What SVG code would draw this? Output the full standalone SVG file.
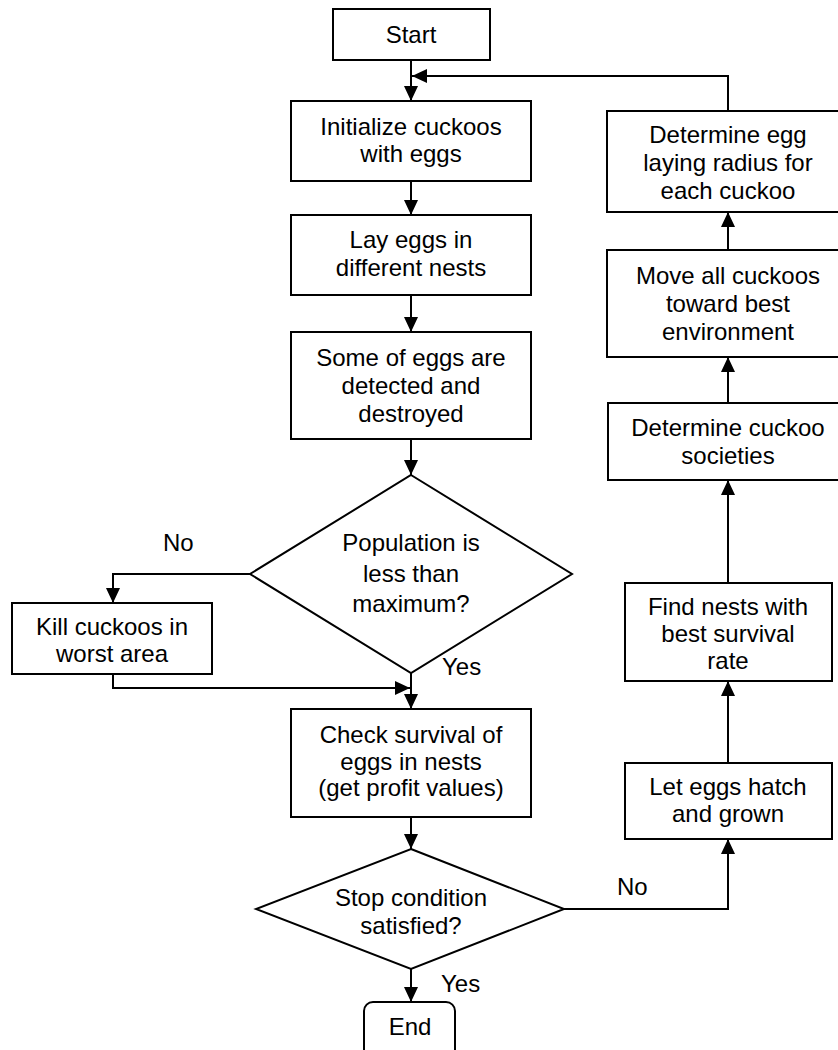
<svg xmlns="http://www.w3.org/2000/svg" width="838" height="1050" viewBox="0 0 838 1050">
<defs>
<marker id="ah" markerUnits="userSpaceOnUse" markerWidth="16" markerHeight="16" viewBox="0 0 16 14" refX="15" refY="7" orient="auto">
<path d="M0,0 L15,7 L0,14 Z" fill="#000"/>
</marker>
</defs>
<style>
.box{fill:#fff;stroke:#000;stroke-width:2}
.t{font-family:"Liberation Sans",Arial,sans-serif;font-size:24px;fill:#000;text-anchor:middle}
.l{font-family:"Liberation Sans",Arial,sans-serif;font-size:24px;fill:#000}
.c{fill:none;stroke:#000;stroke-width:2}
</style>
<rect width="838" height="1050" fill="#fff"/>
<g id="connectors">
<path class="c" d="M411,60 V101" marker-end="url(#ah)"/>
<path class="c" d="M728,111 V76 H412" marker-end="url(#ah)"/>
<path class="c" d="M411,181 V215" marker-end="url(#ah)"/>
<path class="c" d="M411,295 V332" marker-end="url(#ah)"/>
<path class="c" d="M411,439 V475" marker-end="url(#ah)"/>
<path class="c" d="M250,574 H113 V603" marker-end="url(#ah)"/>
<path class="c" d="M113,674 V688 H410" marker-end="url(#ah)"/>
<path class="c" d="M411,673 V709" marker-end="url(#ah)"/>
<path class="c" d="M411,817 V849" marker-end="url(#ah)"/>
<path class="c" d="M411,969 V1002" marker-end="url(#ah)"/>
<path class="c" d="M564,909 H728 V839" marker-end="url(#ah)"/>
<path class="c" d="M728,763 V681" marker-end="url(#ah)"/>
<path class="c" d="M728,583 V480" marker-end="url(#ah)"/>
<path class="c" d="M728,403 V357" marker-end="url(#ah)"/>
<path class="c" d="M728,250 V212" marker-end="url(#ah)"/>
</g>
<g id="start">
<rect class="box" x="333" y="9" width="157" height="51"/>
<text class="t" x="411" y="43">Start</text>
</g>
<g id="init">
<rect class="box" x="291" y="101" width="240" height="80"/>
<text class="t" x="411" y="135">Initialize cuckoos</text>
<text class="t" x="411" y="162">with eggs</text>
</g>
<g id="lay">
<rect class="box" x="291" y="215" width="240" height="80"/>
<text class="t" x="411" y="248">Lay eggs in</text>
<text class="t" x="411" y="276">different nests</text>
</g>
<g id="detect">
<rect class="box" x="291" y="332" width="240" height="107"/>
<text class="t" x="411" y="366">Some of eggs are</text>
<text class="t" x="411" y="394">detected and</text>
<text class="t" x="411" y="422">destroyed</text>
</g>
<g id="popdec">
<polygon class="box" points="411,475 572,574 411,673 250,574"/>
<text class="t" x="411" y="551">Population is</text>
<text class="t" x="411" y="582">less than</text>
<text class="t" x="411" y="612">maximum?</text>
</g>
<g id="kill">
<rect class="box" x="12" y="603" width="200" height="71"/>
<text class="t" x="112" y="635">Kill cuckoos in</text>
<text class="t" x="112" y="662">worst area</text>
</g>
<g id="check">
<rect class="box" x="291" y="709" width="240" height="108"/>
<text class="t" x="411" y="743">Check survival of</text>
<text class="t" x="411" y="770">eggs in nests</text>
<text class="t" x="411" y="796">(get profit values)</text>
</g>
<g id="stopdec">
<polygon class="box" points="411,849 564,909 411,969 256,909"/>
<text class="t" x="411" y="906">Stop condition</text>
<text class="t" x="411" y="934">satisfied?</text>
</g>
<g id="end">
<rect class="box" x="364" y="1002" width="91" height="60" rx="9" ry="9"/>
<text class="t" x="410" y="1035">End</text>
</g>
<g id="hatch">
<rect class="box" x="625" y="763" width="207" height="76"/>
<text class="t" x="728" y="795">Let eggs hatch</text>
<text class="t" x="728" y="822">and grown</text>
</g>
<g id="findnests">
<rect class="box" x="625" y="583" width="207" height="98"/>
<text class="t" x="728" y="615">Find nests with</text>
<text class="t" x="728" y="642">best survival</text>
<text class="t" x="728" y="669">rate</text>
</g>
<g id="societies">
<rect class="box" x="608" y="403" width="241" height="77"/>
<text class="t" x="728" y="436">Determine cuckoo</text>
<text class="t" x="728" y="464">societies</text>
</g>
<g id="move">
<rect class="box" x="607" y="250" width="242" height="107"/>
<text class="t" x="728" y="284">Move all cuckoos</text>
<text class="t" x="728" y="312">toward best</text>
<text class="t" x="728" y="340">environment</text>
</g>
<g id="radius">
<rect class="box" x="607" y="111" width="242" height="101"/>
<text class="t" x="728" y="143">Determine egg</text>
<text class="t" x="728" y="171">laying radius for</text>
<text class="t" x="728" y="199">each cuckoo</text>
</g>
<g id="labels">
<text class="l" x="163" y="551">No</text>
<text class="l" x="442" y="675">Yes</text>
<text class="l" x="617" y="895">No</text>
<text class="l" x="441" y="992">Yes</text>
</g>
</svg>
